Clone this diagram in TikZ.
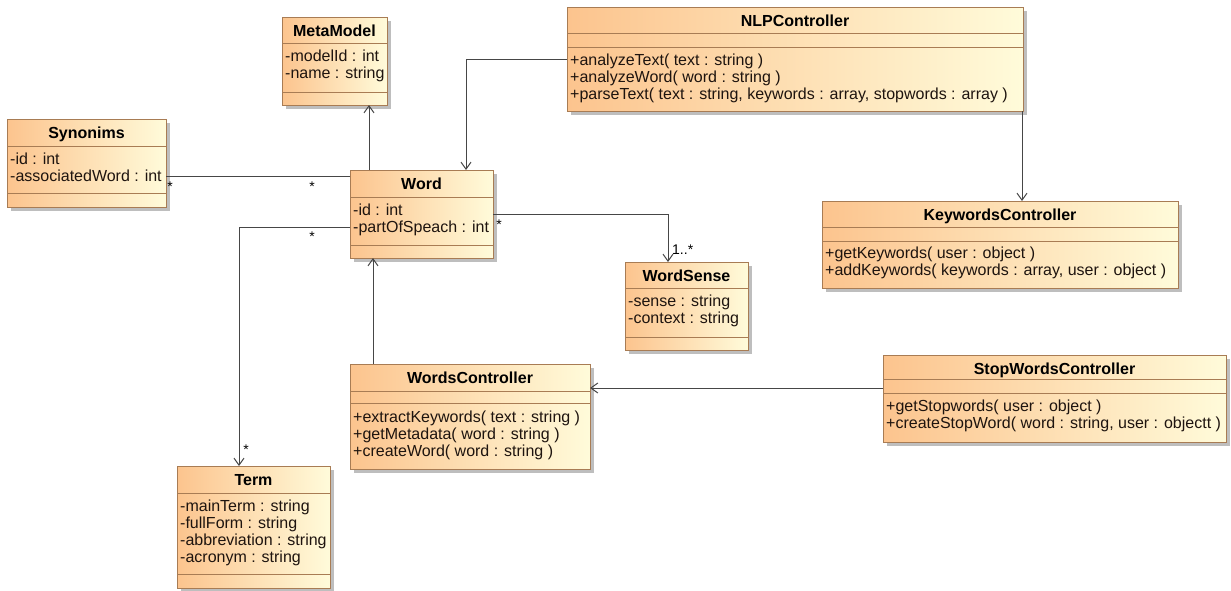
\documentclass[tikz,border=0pt]{standalone}
\usepackage{fontspec}
\setmainfont{Liberation Sans}
\usetikzlibrary{arrows.meta,calc}

\definecolor{boxleft}{RGB}{252,196,142}
\definecolor{boxright}{RGB}{255,251,218}
\definecolor{boxedge}{RGB}{168,124,84}
\definecolor{linkc}{RGB}{70,70,70}
\definecolor{shadowc}{RGB}{190,190,190}
\definecolor{textc}{RGB}{30,20,15}

\tikzset{
  classbody/.style={rectangle, draw=boxedge, line width=1pt,
    left color=boxleft, right color=boxright, inner sep=0pt, outer sep=0pt},
  sepline/.style={draw=boxedge, line width=1pt},
  classtitle/.style={font=\bfseries\fontsize{16}{17}\selectfont, inner sep=0pt,
    anchor=base, text=black},
  memberline/.style={font=\fontsize{16}{17}\selectfont, inner sep=0pt,
    anchor=base west, text=textc},
  link/.style={draw=linkc, line width=1pt},
  navarrow/.style={link, -{Straight Barb[length=7pt,width=10pt,line width=1pt]}},
  mult/.style={font=\fontsize{14}{16}\selectfont, inner sep=0pt, text=black}
}

% class box: name, left, top, right, bottom (pixel-like units, y grows downward)
\newcommand\classbox[5]{%
  \fill[shadowc] (#2+4,#3+4) rectangle (#4+4,#5+4);
  \node[classbody, anchor=north west, minimum width=#4-#2,
        minimum height=#5-#3] (#1) at (#2,#3) {};
}
% compartment separator at a given distance below the top edge
\newcommand\compsep[2]{%
  \draw[sepline] ([yshift=-#2pt]#1.north west) -- ([yshift=-#2pt]#1.north east);
}
% class name, baseline 19 below the top edge
\newcommand\ctitle[2]{%
  \node[classtitle] (#1-title) at ([yshift=-19pt]#1.north) {#2};
}
% one attribute / operation line: node name, class, baseline offset, text
\newcommand\member[4]{%
  \node[memberline] (#1) at ([xshift=3pt,yshift=-#3pt]#2.north west) {#4};
}

\begin{document}
\begin{tikzpicture}[x=1pt,y=-1pt]
\useasboundingbox (0,0) rectangle (1231,590);
\fill[white] (0,0) rectangle (1231,590);

% ---- MetaModel
\classbox{meta}{282}{17}{387}{105}
\compsep{meta}{26}\compsep{meta}{75}
\ctitle{meta}{MetaModel}
\member{meta-a1}{meta}{44}{-modelId : int}
\member{meta-a2}{meta}{61}{-name : string}

% ---- Synonims
\classbox{syn}{7}{119}{166}{207}
\compsep{syn}{27}\compsep{syn}{74}
\ctitle{syn}{Synonims}
\member{syn-a1}{syn}{45}{-id : int}
\member{syn-a2}{syn}{62}{-associatedWord : int}

% ---- Word
\classbox{word}{350}{170}{493}{258}
\compsep{word}{27}\compsep{word}{75}
\ctitle{word}{Word}
\member{word-a1}{word}{45}{-id : int}
\member{word-a2}{word}{62}{-partOfSpeach : int}

% ---- WordSense
\classbox{sense}{625}{262}{748}{350}
\compsep{sense}{26}\compsep{sense}{75}
\ctitle{sense}{WordSense}
\member{sense-a1}{sense}{44}{-sense : string}
\member{sense-a2}{sense}{61}{-context : string}

% ---- NLPController
\classbox{nlp}{567}{7}{1023}{111}
\compsep{nlp}{26}\compsep{nlp}{40}
\ctitle{nlp}{NLPController}
\member{nlp-o1}{nlp}{58}{+analyzeText( text : string )}
\member{nlp-o2}{nlp}{75}{+analyzeWord( word : string )}
\member{nlp-o3}{nlp}{92}{+parseText( text : string, keywords : array, stopwords : array )}

% ---- KeywordsController
\classbox{kw}{822}{201}{1178}{288}
\compsep{kw}{26}\compsep{kw}{40}
\ctitle{kw}{KeywordsController}
\member{kw-o1}{kw}{57}{+getKeywords( user : object )}
\member{kw-o2}{kw}{74}{+addKeywords( keywords : array, user : object )}

% ---- WordsController
\classbox{wc}{350}{364}{590}{469}
\compsep{wc}{27}\compsep{wc}{39}
\ctitle{wc}{WordsController}
\member{wc-o1}{wc}{58}{+extractKeywords( text : string )}
\member{wc-o2}{wc}{75}{+getMetadata( word : string )}
\member{wc-o3}{wc}{92}{+createWord( word : string )}

% ---- StopWordsController
\classbox{sw}{883}{355}{1226}{442}
\compsep{sw}{24}\compsep{sw}{38}
\ctitle{sw}{StopWordsController}
\member{sw-o1}{sw}{56}{+getStopwords( user : object )}
\member{sw-o2}{sw}{73}{+createStopWord( word : string, user : objectt )}

% ---- Term
\classbox{term}{177}{466}{330}{588}
\compsep{term}{27}\compsep{term}{108}
\ctitle{term}{Term}
\member{term-a1}{term}{45}{-mainTerm : string}
\member{term-a2}{term}{62}{-fullForm : string}
\member{term-a3}{term}{79}{-abbreviation : string}
\member{term-a4}{term}{96}{-acronym : string}

% ---- connectors
% Word -> MetaModel
\coordinate (w-up) at ([xshift=19pt]word.north west);
\draw[navarrow] (w-up) -- (w-up |- meta.south);

% Synonims -- Word
\coordinate (w-left1) at ([yshift=-6pt]word.north west);
\draw[link] (w-left1) -- (w-left1 -| syn.east);
\node[mult] (m-syn) at (170,187) {*};
\node[mult] (m-syn-w) at (312,187) {*};

% Word -> WordSense
\coordinate (w-right) at ([yshift=-44pt]word.north east);
\coordinate (s-top) at ([xshift=43pt]sense.north west);
\draw[navarrow] (w-right) -| (s-top);
\node[mult] (m-ws-w) at (499,225) {*};
\node[mult, anchor=base west] (m-ws-s) at (672,254) {1..*};

% NLPController -> Word
\coordinate (n-left) at ([yshift=-52pt]nlp.north west);
\coordinate (w-top2) at ([xshift=116pt]word.north west);
\draw[navarrow] (n-left) -| (w-top2);

% NLPController -> KeywordsController
\coordinate (n-bot) at ([xshift=-1pt]nlp.south east);
\draw[navarrow] (n-bot) -- (n-bot |- kw.north);

% WordsController -> Word
\coordinate (wc-top) at ([xshift=23pt]wc.north west);
\draw[navarrow] (wc-top) -- (wc-top |- word.south);

% StopWordsController -> WordsController
\coordinate (sw-left) at ([yshift=-33pt]sw.north west);
\draw[navarrow] (sw-left) -- (sw-left -| wc.east);

% Word -> Term
\coordinate (w-left2) at ([yshift=-57pt]word.north west);
\coordinate (t-top) at ([xshift=62pt]term.north west);
\draw[navarrow] (w-left2) -| (t-top);
\node[mult] (m-wt-w) at (312,237) {*};
\node[mult] (m-wt-t) at (246,450) {*};
\end{tikzpicture}
\end{document}
